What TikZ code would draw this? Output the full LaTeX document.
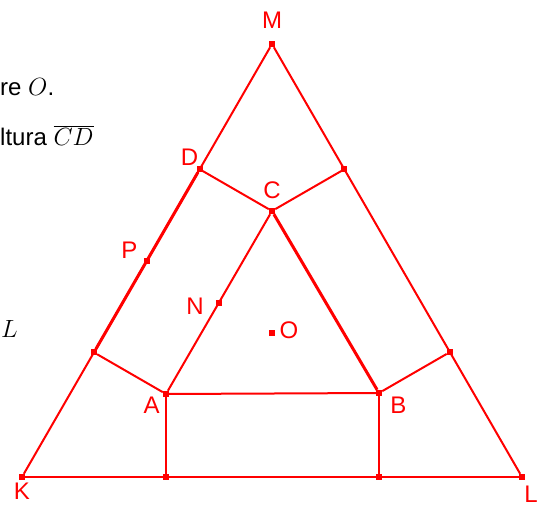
\documentclass[tikz,border=0pt]{standalone}
\usepackage{fontspec}
\setmainfont{Liberation Sans}
\usetikzlibrary{positioning, calc}

\begin{document}
\begin{tikzpicture}[
  x=1pt, y=-1pt,
  node distance=4pt and 4pt,
  vtx/.style={rectangle, fill=red, inner sep=0pt, minimum size=6pt},
  lbl/.style={inner sep=0pt, text=red, font=\fontsize{24}{28}\selectfont},
  txt/.style={inner sep=0pt, anchor=base west, font=\fontsize{24}{28}\selectfont},
  side/.style={red, line width=2pt},
  heavy/.style={red, line width=3pt}
]
  \useasboundingbox (0,0) rectangle (546,507);

  % text of the page around the figure
  \node[txt] (t1) at (0,95) {re $O$.};
  \node[txt] (t2) at (0,145) {ltura $\overline{CD}$};
  \node[txt] (t3) at (1,337) {$L$};

  % outer and inner triangle
  \node[vtx] (K) at (22,477) {};
  \node[vtx] (L) at (522,477) {};
  \node[vtx] (M) at (272,44) {};
  \node[vtx] (A) at (166,394) {};
  \node[vtx] (B) at (379,393) {};
  \node[vtx] (C) at (272,211) {};

  % feet of the perpendiculars
  \node[vtx] (D) at ($(K)!(C)!(M)$) {};
  \node[vtx] (E) at ($(L)!(C)!(M)$) {};
  \node[vtx] (F) at ($(K)!(A)!(M)$) {};
  \node[vtx] (G) at ($(K)!(A)!(L)$) {};
  \node[vtx] (H) at ($(K)!(B)!(L)$) {};
  \node[vtx] (I) at ($(L)!(B)!(M)$) {};

  \node[vtx] (P) at ($(F)!0.5!(D)$) {};
  \node[vtx] (N) at ($(A)!0.5!(C)$) {};
  \node[vtx] (O) at (barycentric cs:A=1,B=1,C=1) {};

  \draw[side] (K) -- (L);
  \draw[side] (L) -- (M);
  \draw[side] (M) -- (K);
  \draw[heavy] (F) -- (D);

  \draw[side] (A) -- (B);
  \draw[side] (A) -- (C);
  \draw[heavy] (C) -- (B);

  \draw[side] (C) -- (D);
  \draw[side] (C) -- (E);
  \draw[side] (A) -- (F);
  \draw[side] (A) -- (G);
  \draw[side] (B) -- (H);
  \draw[side] (B) -- (I);

  % labels
  \node[lbl, above=12pt of M] (lM) {M};
  \node[lbl, above left=0pt and -2pt of D] (lD) {D};
  \node[lbl, above=9pt of C] (lC) {C};
  \node[lbl, above left=-1pt and 6pt of P] (lP) {P};
  \node[lbl, left=12pt of N, yshift=-4pt] (lN) {N};
  \node[lbl, right=4pt of O, yshift=2pt] (lO) {O};
  \node[lbl, below left=0pt and 3pt of A] (lA) {A};
  \node[lbl, below right=1pt and 8pt of B] (lB) {B};
  \node[lbl, below=3pt of K] (lK) {K};
  \node[lbl, below right=6pt and -1pt of L] (lL) {L};
\end{tikzpicture}
\end{document}
